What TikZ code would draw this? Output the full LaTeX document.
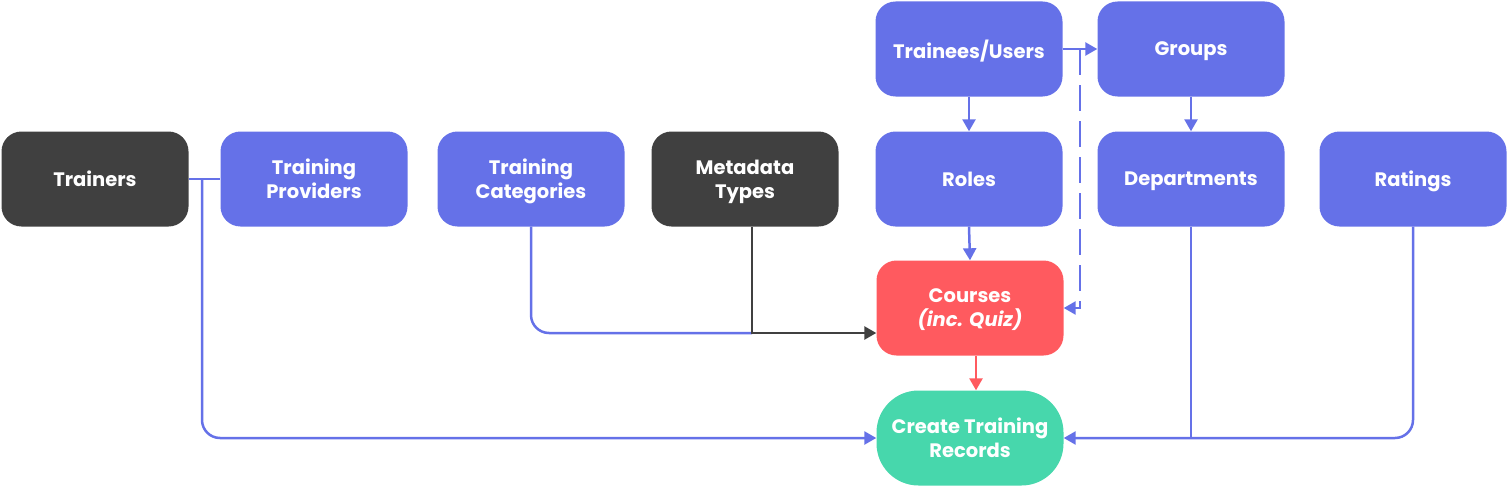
\documentclass[tikz,border=0pt]{standalone}
\usepackage{fontspec}
\setmainfont{Poppins}
\usetikzlibrary{arrows.meta}
\definecolor{cblue}{HTML}{6571E8}
\definecolor{cdark}{HTML}{404040}
\definecolor{cred}{HTML}{FF5A5F}
\definecolor{cgreen}{HTML}{47D7AC}
\tikzset{
  box/.style={rectangle, rounded corners=20pt, minimum width=187pt, minimum height=95pt,
    text=white, align=center, inner sep=0pt, text depth=0pt, font=\fontsize{19.5}{24}\selectfont\bfseries},
  bluebox/.style={box, fill=cblue},
  darkbox/.style={box, fill=cdark},
  ln/.style={line width=2.5pt, draw=cblue},
  dln/.style={line width=2.5pt, draw=cdark},
  rln/.style={line width=2.5pt, draw=cred},
  arr/.style={-{Triangle[length=12pt,width=13pt]}},
}
\begin{document}
\begin{tikzpicture}[x=1pt,y=-1pt]
\useasboundingbox (0,0) rectangle (1507,487);
\node[darkbox] (trainers) at (95,179) {Trainers};
\node[bluebox] (prov) at (314,179) {Training\\Providers};
\node[bluebox] (cat) at (531,179) {Training\\Categories};
\node[darkbox] (meta) at (745,179) {Metadata\\Types};
\node[bluebox] (roles) at (969,179) {Roles};
\node[bluebox] (dep) at (1191,179) {Departments};
\node[bluebox] (rat) at (1413,179) {Ratings};
\node[bluebox] (users) at (969,49) {Trainees/Users};
\node[bluebox] (groups) at (1191,49) {Groups};
\node[box, fill=cred] (courses) at (970,308) {Courses\\{\itshape(inc. Quiz)}};
\node[box, fill=cgreen, rounded corners=42pt] (create) at (970,438) {Create Training\\Records};
\coordinate (tj) at (202,179);
\coordinate (mj) at (752,333);
\coordinate (dj) at (1080,49);
% connectors
\draw[ln] (trainers.east) -- (prov.west);
\draw[ln, arr, rounded corners=18pt] (tj) -- (tj |- create.west) -- (create.west);
\draw[ln, rounded corners=18pt] (cat.south) |- (mj);
\draw[dln, arr] (meta.south -| mj) -- (mj) -- (courses.west |- mj);
\draw[ln, arr] (users.south) -- (roles.north);
\draw[ln, arr] (users.east) -- (groups.west);
\draw[ln, arr, dash pattern=on 26pt off 10pt] (dj) |- (courses.east);
\draw[ln, arr] (roles.south) -- (courses.north);
\draw[ln, arr] (groups.south) -- (dep.north);
\draw[rln, arr] ([xshift=6pt]courses.south) -- ([xshift=6pt]create.north);
\draw[ln] (dep.south) -- (dep.south |- create.east);
\draw[ln, arr, rounded corners=18pt] (rat.south) |- (create.east);
\end{tikzpicture}
\end{document}
